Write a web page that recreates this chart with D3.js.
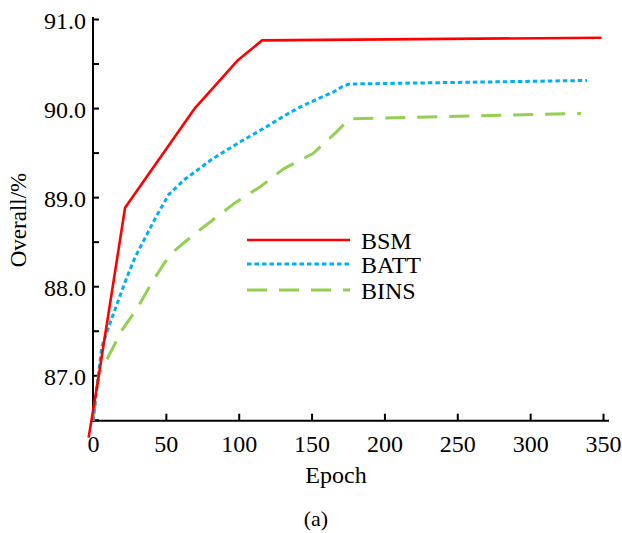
<!DOCTYPE html>
<html>
<head>
<meta charset="utf-8">
<script src="https://cdn.jsdelivr.net/npm/d3@7"></script>
<style>
  html, body { margin: 0; padding: 0; background: #fff; }
  svg { display: block; }
  text { font-family: "Liberation Serif", "Times New Roman", serif; fill: #000; }
</style>
</head>
<body>
<svg id="chart" width="622" height="533"></svg>
<script>
// ---- data ----
const seriesNames = ["BSM", "BATT", "BINS"];
const seriesColors = ["#FF0000", "#00B0F0", "#92D050"];

const bsmEpoch = [-3, 4, 22, 70, 99, 116, 349];
const bsmValue = [86.3, 87.0, 88.88, 90.0, 90.53, 90.76, 90.79];

const battEpoch = [0, 6, 14, 23, 29, 36, 44, 52, 63, 73, 82, 96, 102, 119, 132, 142, 155, 165, 171, 176, 339];
const battValue = [86.49, 87.32, 87.69, 88.09, 88.33, 88.55, 88.80, 89.03, 89.20, 89.32, 89.43, 89.57, 89.63, 89.79, 89.92, 90.01, 90.11, 90.18, 90.24, 90.27, 90.31];

const binsEpoch = [0, 4, 8, 20, 31, 40, 49, 56, 70, 97, 115, 131, 151, 167, 173, 176, 335];
const binsValue = [86.49, 87.02, 87.13, 87.51, 87.77, 88.03, 88.26, 88.40, 88.59, 88.93, 89.12, 89.32, 89.49, 89.73, 89.83, 89.88, 89.94];

const xTicks = [0, 50, 100, 150, 200, 250, 300, 350];
const yTicks = [86.5, 87.0, 87.5, 88.0, 88.5, 89.0, 89.5, 90.0, 90.5, 91.0];
const yLabelTicks = [87.0, 88.0, 89.0, 90.0, 91.0];

const xTitle = "Epoch";
const yTitle = "Overall/%";
const caption = "(a)";

// ---- layout ----
const svg = d3.select("#chart");
const x = d3.scaleLinear().domain([0, 350]).range([93, 603]);
const y = d3.scaleLinear().domain([86.49, 91]).range([420.7, 19]);
const FS = 24;

// axes
const gx = svg.append("g").attr("transform", `translate(0,${y(86.49)})`)
  .call(d3.axisBottom(x).tickValues(xTicks).tickSize(-7).tickPadding(14).tickFormat(d3.format("d")));
const gy = svg.append("g").attr("transform", `translate(${x(0)},0)`)
  .call(d3.axisLeft(y).tickValues(yTicks).tickSize(-6).tickPadding(7)
    .tickFormat(d => yLabelTicks.includes(d) ? d.toFixed(1) : ""));
[gx, gy].forEach(g => {
  g.select(".domain").remove();
  g.selectAll(".tick line").attr("stroke", "#000").attr("stroke-width", 2);
  g.selectAll(".tick text").attr("font-size", FS).attr("font-family", "Liberation Serif");
});
gy.selectAll(".tick text").attr("dy", "0.38em");

svg.append("line").attr("x1", x(0)).attr("x2", x(0)).attr("y1", y(91) - 2).attr("y2", y(86.49) + 1)
  .attr("stroke", "#000").attr("stroke-width", 2);
svg.append("line").attr("x1", x(0) - 1).attr("x2", x(350) + 6).attr("y1", y(86.49)).attr("y2", y(86.49))
  .attr("stroke", "#000").attr("stroke-width", 2);

// lines
const line = d3.line().x(d => x(d[0])).y(d => y(d[1]));
const series = [
  { name: seriesNames[0], color: seriesColors[0], pts: d3.zip(bsmEpoch, bsmValue), dash: null, w: 2.6 },
  { name: seriesNames[1], color: seriesColors[1], pts: d3.zip(battEpoch, battValue), dash: "4.5,3", w: 3 },
  { name: seriesNames[2], color: seriesColors[2], pts: d3.zip(binsEpoch, binsValue), dash: "20,12", w: 3 }
];
// draw in order BINS, BATT, BSM so red is on top
series.slice().reverse().forEach(s => {
  svg.append("path").datum(s.pts).attr("d", line)
    .attr("fill", "none").attr("stroke", s.color).attr("stroke-width", s.w)
    .attr("stroke-dasharray", s.dash).attr("stroke-linejoin", "round");
});

// legend
const legY = [240, 264, 290];
series.forEach((s, i) => {
  svg.append("line").attr("x1", 247).attr("x2", 350).attr("y1", legY[i]).attr("y2", legY[i])
    .attr("stroke", s.color).attr("stroke-width", s.w).attr("stroke-dasharray", s.dash);
  svg.append("text").attr("x", 361).attr("y", legY[i] + 8.5).attr("font-size", FS).text(s.name);
});

// titles
svg.append("text").attr("x", 336).attr("y", 483).attr("text-anchor", "middle").attr("font-size", FS).text(xTitle);
svg.append("text").attr("transform", "translate(26,220) rotate(-90)").attr("text-anchor", "middle")
  .attr("font-size", 23).text(yTitle);
svg.append("text").attr("x", 316).attr("y", 526).attr("text-anchor", "middle").attr("font-size", 22).text(caption);
</script>
</body>
</html>
